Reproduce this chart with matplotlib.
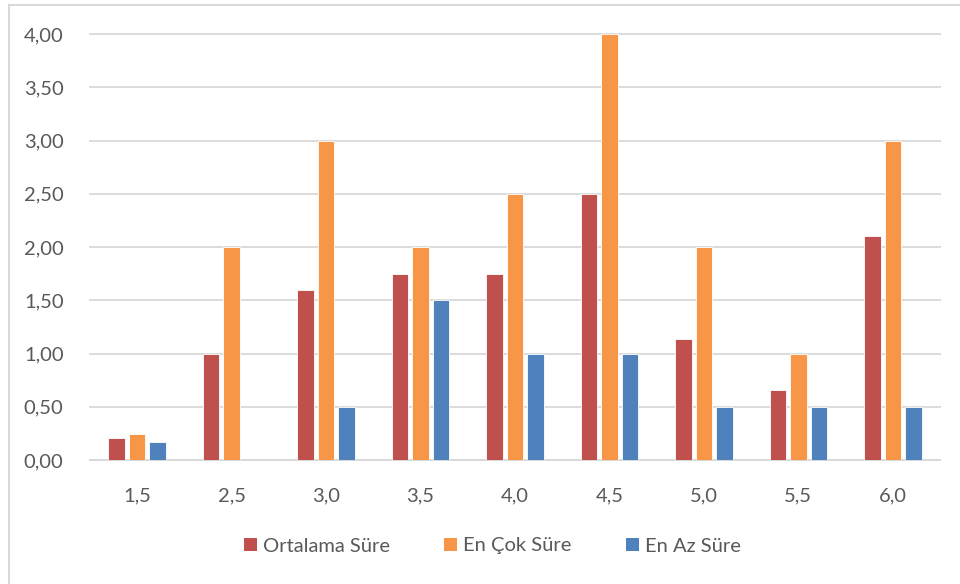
import matplotlib
matplotlib.use("Agg")
import matplotlib.pyplot as plt
import numpy as np
from matplotlib.lines import Line2D
from matplotlib.patches import Patch

categories = ["1,5", "2,5", "3,0", "3,5", "4,0", "4,5", "5,0", "5,5", "6,0"]
ortalama = [0.21, 1.00, 1.60, 1.75, 1.75, 2.50, 1.14, 0.66, 2.10]
en_cok = [0.24, 2.00, 3.00, 2.00, 2.50, 4.00, 2.00, 1.00, 3.00]
en_az = [0.17, 0.00, 0.50, 1.50, 1.00, 1.00, 0.50, 0.50, 0.50]
series_names = ["Ortalama Süre", "En Çok Süre", "En Az Süre"]
colors = ["#C0504D", "#F79646", "#4F81BD"]
yticks = [0, 0.5, 1.0, 1.5, 2.0, 2.5, 3.0, 3.5, 4.0]

plt.rcParams['font.family'] = ['Lato', 'DejaVu Sans']
text_color = "#595959"

fig = plt.figure(figsize=(9.6, 5.84), dpi=100)
ax = fig.add_axes([90/960, 1 - 460/584, 850/960, (460-34)/584])

x = np.arange(len(categories))
w = 0.175
off = 0.217
for i, (vals, c) in enumerate(zip([ortalama, en_cok, en_az], colors)):
    ax.bar(x + (i - 1) * off, vals, width=w, color=c, edgecolor="white",
           linewidth=0.6, zorder=3, label=series_names[i])

ax.set_xlim(-0.5, len(categories) - 0.5)
ax.set_ylim(0, 4)
ax.set_yticks(yticks)
ax.set_yticklabels([f"{v:.2f}".replace(".", ",") for v in yticks])
ax.set_xticks(x)
ax.set_xticklabels(categories)
ax.tick_params(axis="both", length=0, labelsize=14.5, colors=text_color)
ax.tick_params(axis="y", pad=19)
ax.tick_params(axis="x", pad=20)
ax.grid(axis="y", color="#D9D9D9", linewidth=1.3, zorder=0)
ax.set_axisbelow(True)
for s in ["top", "right", "left"]:
    ax.spines[s].set_visible(False)
ax.spines["bottom"].set_color("#D9D9D9")
ax.spines["bottom"].set_linewidth(1.3)
for gl in ax.get_ygridlines():
    gl.set_clip_on(False)

handles = [Patch(facecolor=c, edgecolor="none") for c in colors]
fig.legend(handles, series_names, loc="center", bbox_to_anchor=(0.513, 1 - 546/584),
           ncol=3, frameon=False, fontsize=14.5, labelcolor=text_color,
           handlelength=0.65, handleheight=0.65, handletextpad=0.3, columnspacing=2.7)

# outer chart border (top and left visible)
fig.add_artist(Line2D([8.5/960, 8.5/960], [0, 1 - 5/584], transform=fig.transFigure,
                      color="#D9D9D9", linewidth=1.5))
fig.add_artist(Line2D([8.5/960, 1], [1 - 5/584, 1 - 5/584], transform=fig.transFigure,
                      color="#D9D9D9", linewidth=1.5))

fig.savefig("out.png", dpi=100)
